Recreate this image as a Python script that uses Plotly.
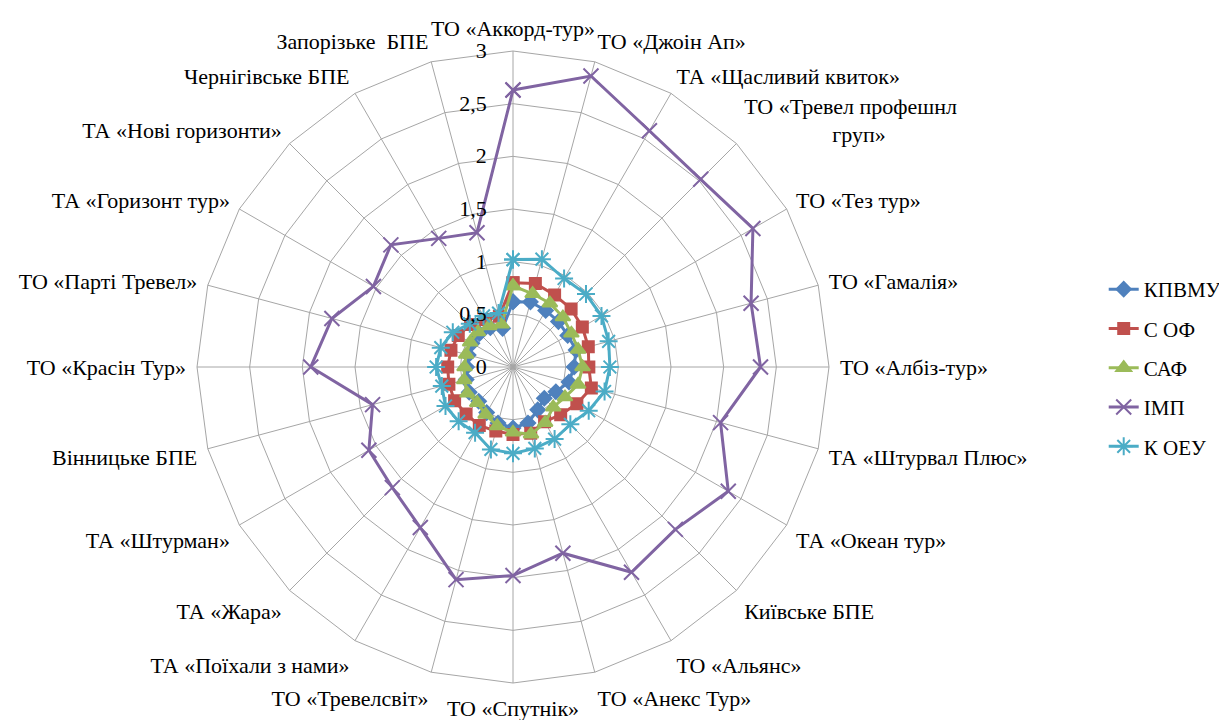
import plotly.graph_objects as go

NB = "\u00a0"
categories = [
    "ТО «Аккорд-тур»", "ТО «Джоін Ап»", "ТА «Щасливий квиток»",
    "ТО «Тревел профешнл<br>" + NB * 16 + "груп»", "ТО «Тез тур»", "ТО «Гамалія»",
    "ТО «Албіз-тур»", "ТА «Штурвал Плюс»", "ТА «Океан тур»",
    "Київське БПЕ", "ТО «Альянс»", "ТО «Анекс Тур»", "ТО «Спутнік»",
    "ТО «Тревелсвіт»", "ТА «Поїхали з нами»", "ТА «Жара»", "ТА «Штурман»",
    "Вінницьке БПЕ", "ТО «Красін Тур»", "ТО «Парті Тревел»",
    "ТА «Горизонт тур»", "ТА «Нові горизонти»", "Чернігівське БПЕ",
    "Запорізьке" + NB + NB + "БПЕ",
]

kpvmu = [0.62, 0.64, 0.62, 0.61, 0.60, 0.62, 0.58, 0.55, 0.47, 0.42, 0.47, 0.55,
         0.58, 0.55, 0.50, 0.46, 0.48, 0.46, 0.44, 0.44, 0.45, 0.45, 0.43, 0.38]
s_of = [0.80, 0.82, 0.79, 0.78, 0.76, 0.74, 0.72, 0.77, 0.70, 0.64, 0.60, 0.65,
        0.64, 0.63, 0.64, 0.63, 0.64, 0.63, 0.62, 0.61, 0.60, 0.57, 0.52, 0.50]
saf = [0.77, 0.72, 0.70, 0.67, 0.64, 0.64, 0.66, 0.64, 0.57, 0.54, 0.61, 0.66,
       0.62, 0.58, 0.52, 0.48, 0.50, 0.48, 0.46, 0.46, 0.47, 0.47, 0.45, 0.42]
imp = [2.63, 2.86, 2.59, 2.52, 2.63, 2.34, 2.35, 2.04, 2.36, 2.18, 2.25, 1.83,
       1.98, 2.09, 1.76, 1.62, 1.58, 1.38, 1.92, 1.78, 1.53, 1.64, 1.41, 1.32]
k_oeu = [1.02, 1.06, 0.97, 0.98, 0.97, 0.94, 0.92, 0.90, 0.83, 0.77, 0.79, 0.80,
         0.82, 0.81, 0.72, 0.73, 0.74, 0.70, 0.73, 0.71, 0.66, 0.58, 0.56, 0.53]

radial_ticks = [0, 0.5, 1, 1.5, 2, 2.5, 3]
radial_labels = ["0", "0,5", "1", "1,5", "2", "2,5", "3"]

series = [
    ("КПВМУ", kpvmu, "#4F81BD", "diamond", 11),
    ("С ОФ", s_of, "#C0504D", "square", 11),
    ("САФ", saf, "#9BBB59", "triangle-up", 13),
    ("ІМП", imp, "#8064A2", "x-thin-open", 15),
    ("К ОЕУ", k_oeu, "#4BACC6", "asterisk-open", 15),
]

FONT = "Liberation Serif"

fig = go.Figure()
for i, (name, vals, color, sym, size) in enumerate(series):
    fig.add_trace(go.Scatterpolar(
        r=vals + [vals[0]],
        theta=categories + [categories[0]],
        mode="lines+markers",
        name=name,
        legendgroup=f"g{i}",
        line=dict(color=color, width=3),
        marker=dict(symbol=sym, size=size, color=color,
                    line=dict(color=color, width=2)),
    ))

cx, cy, R = 505, 359, 316
W, H = 1227, 720
fig.update_layout(
    width=W, height=H,
    margin=dict(l=0, r=0, t=0, b=0),
    paper_bgcolor="white",
    plot_bgcolor="white",
    font=dict(family=FONT, size=22, color="black"),
    polar=dict(
        domain=dict(x=[(cx - R) / W, (cx + R) / W],
                    y=[(H - cy - R) / H, (H - cy + R) / H]),
        bgcolor="white",
        gridshape="linear",
        angularaxis=dict(
            direction="clockwise", rotation=90,
            showline=True, linecolor="#a6a6a6", linewidth=1,
            gridcolor="#a6a6a6", gridwidth=1,
            ticks="outside", ticklen=6, tickcolor="rgba(0,0,0,0)",
            tickfont=dict(family=FONT, size=22, color="black"),
        ),
        radialaxis=dict(
            range=[0, 3], angle=90, side="counterclockwise",
            tickvals=radial_ticks, ticktext=radial_labels,
            showline=False, gridcolor="#a6a6a6", gridwidth=1,
            ticks="outside", ticklen=18, tickcolor="rgba(0,0,0,0)",
            tickangle=90,
            tickfont=dict(family=FONT, size=22, color="black"),
        ),
    ),
    legend=dict(
        x=0.893, y=0.50, xanchor="left", yanchor="middle",
        font=dict(family=FONT, size=21, color="black"),
        tracegroupgap=9, traceorder="grouped",
        bgcolor="rgba(0,0,0,0)",
    ),
)

fig.write_html("out.html")
